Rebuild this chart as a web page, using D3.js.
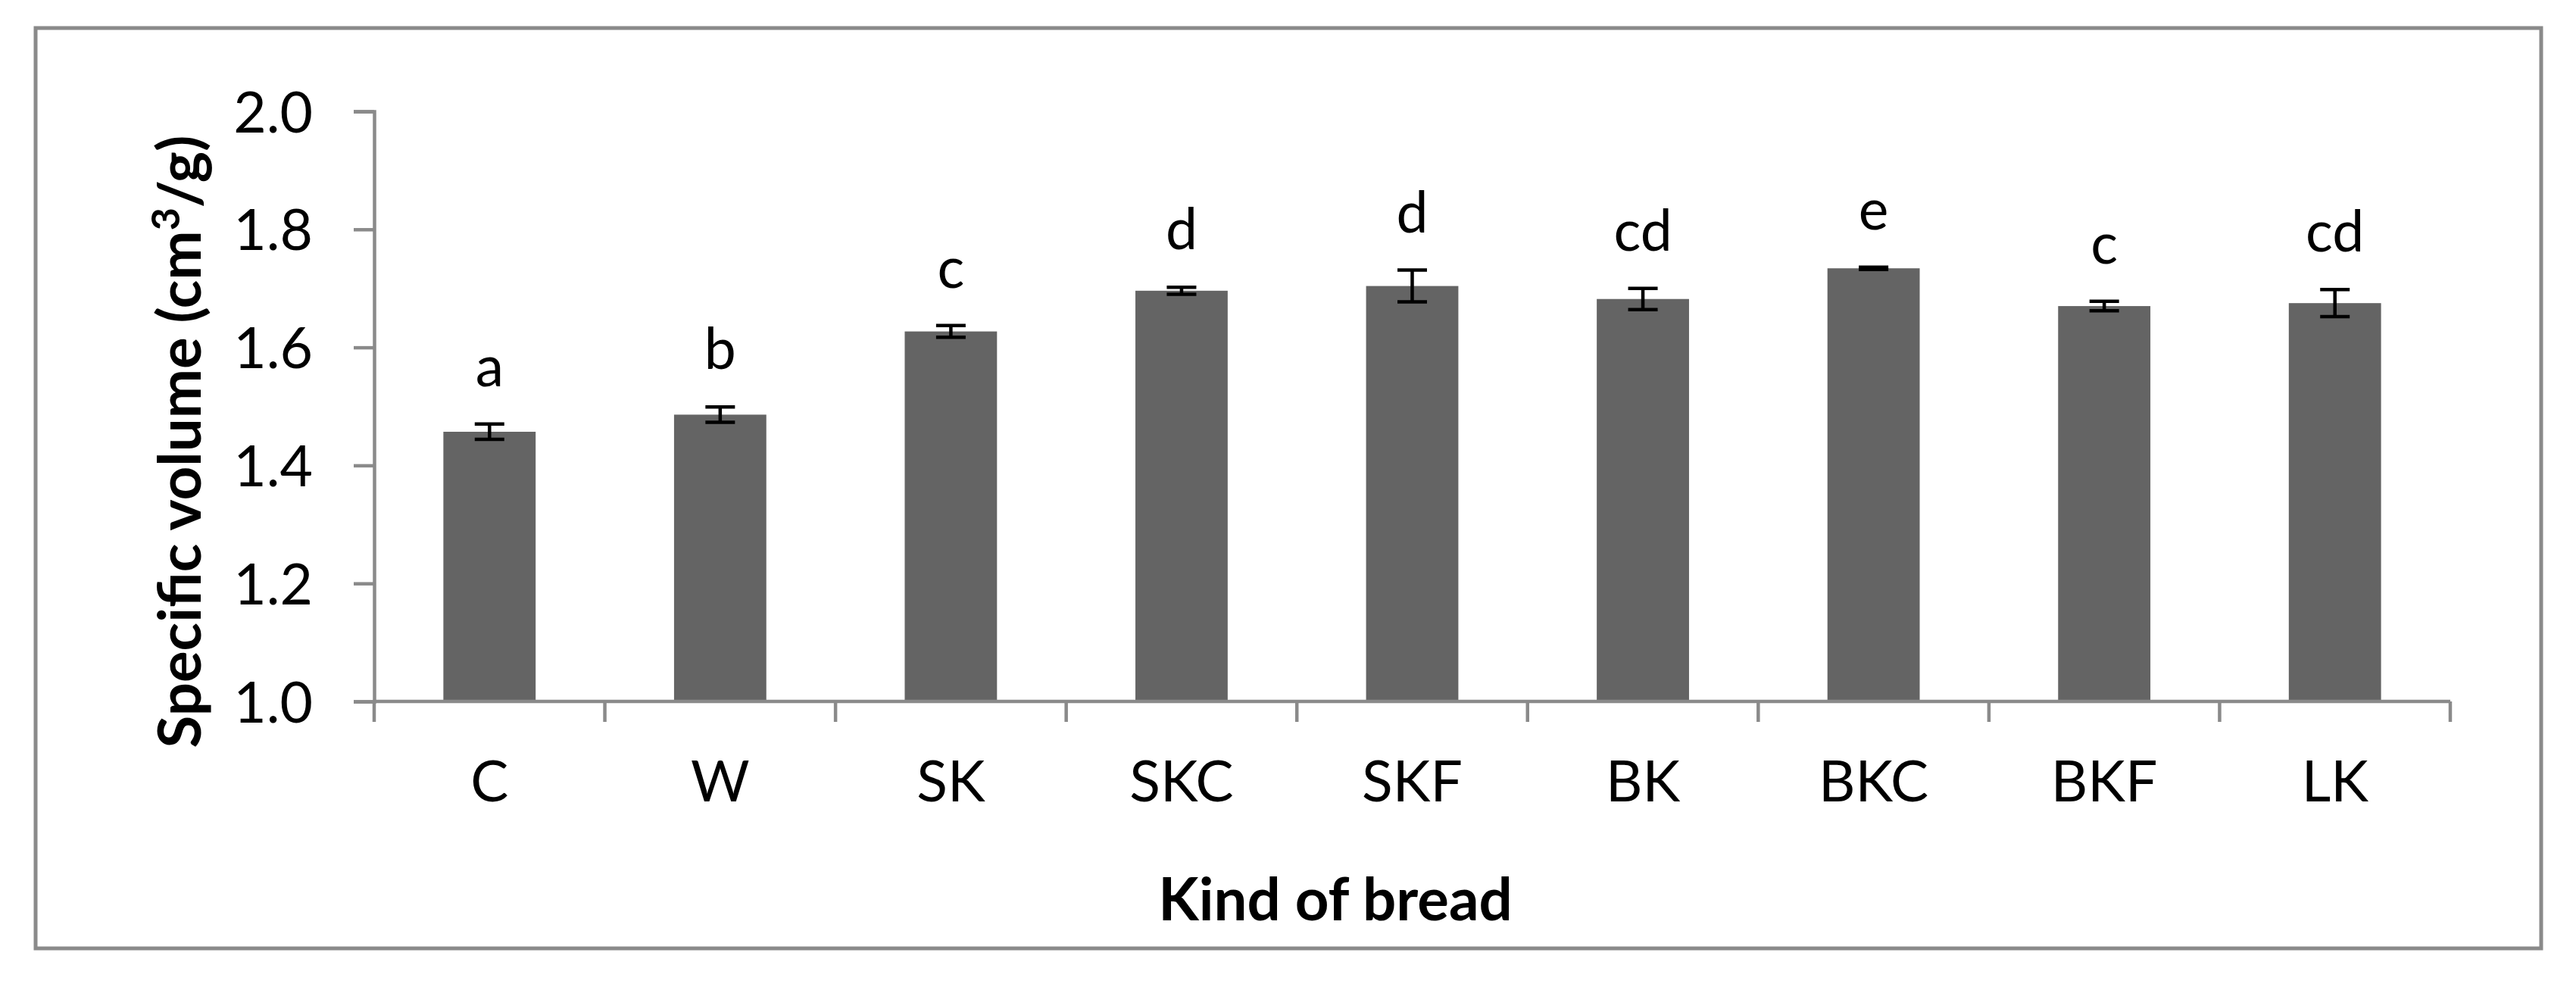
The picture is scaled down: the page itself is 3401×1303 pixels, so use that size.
<!DOCTYPE html>
<html>
<head>
<meta charset="utf-8">
<script src="https://d3js.org/d3.v7.min.js"></script>
<style>
  body { margin: 0; background: #fff; }
  text { font-family: Lato, "Open Sans", sans-serif; }
</style>
</head>
<body>
<svg id="chart" width="3401" height="1303"></svg>
<script>
// values
var categories = ["C", "W", "SK", "SKC", "SKF", "BK", "BKC", "BKF", "LK"];
var means      = [1.457, 1.486, 1.627, 1.696, 1.704, 1.682, 1.734, 1.670, 1.675];
var errors     = [0.013, 0.013, 0.010, 0.006, 0.027, 0.018, 0.002, 0.008, 0.023];
var letters    = ["a", "b", "c", "d", "d", "cd", "e", "c", "cd"];
var yTicks     = [1.0, 1.2, 1.4, 1.6, 1.8, 2.0];

var axisGray = "#8a8a8a",
    barGray = "#646464";

var svg = d3.select("#chart");

// outer chart border
svg.append("rect")
    .attr("x", 47).attr("y", 37)
    .attr("width", 3308).attr("height", 1215)
    .attr("fill", "none")
    .attr("stroke", axisGray)
    .attr("stroke-width", 5);

var x = d3.scaleBand()
    .domain(categories)
    .range([494, 3235])
    .paddingInner(0.6)
    .paddingOuter(0.3);

var y = d3.scaleLinear()
    .domain([1, 2])
    .range([926, 147]);

var barsG = svg.append("g");

// bars
barsG.selectAll(".bar")
  .data(categories)
  .enter().append("rect")
    .attr("class", "bar")
    .attr("x", function(d) { return x(d); })
    .attr("width", x.bandwidth())
    .attr("y", function(d, i) { return y(means[i]); })
    .attr("height", function(d, i) { return y(1) - y(means[i]); })
    .attr("fill", barGray);

// y axis
var yAxis = d3.axisLeft(y)
    .tickValues(yTicks)
    .tickSize(27)
    .tickPadding(54)
    .tickFormat(d3.format(".1f"));

var gy = svg.append("g")
    .attr("transform", "translate(494,0)")
    .call(yAxis);

gy.select(".domain").attr("stroke", axisGray).attr("stroke-width", 4.5);
gy.selectAll(".tick line").attr("stroke", axisGray).attr("stroke-width", 4.5);
gy.selectAll(".tick text")
    .attr("fill", "#000")
    .attr("font-size", 75)
    .attr("dy", "0.36em");

// x axis (labels only, ticks drawn between categories)
var xAxis = d3.axisBottom(x).tickSize(0).tickPadding(0);

var gx = svg.append("g")
    .attr("transform", "translate(0,926)")
    .call(xAxis);

gx.select(".domain").remove();
gx.selectAll(".tick text")
    .attr("fill", "#000")
    .attr("font-size", 75)
    .attr("dy", 0)
    .attr("y", 132);

svg.append("line")
    .attr("x1", x.range()[0]).attr("x2", x.range()[1])
    .attr("y1", y(1)).attr("y2", y(1))
    .attr("stroke", axisGray)
    .attr("stroke-width", 4.5);

svg.selectAll(".xtick")
  .data(d3.range(categories.length + 1))
  .enter().append("line")
    .attr("class", "xtick")
    .attr("x1", function(i) { return x.range()[0] + i * x.step(); })
    .attr("x2", function(i) { return x.range()[0] + i * x.step(); })
    .attr("y1", y(1))
    .attr("y2", y(1) + 27)
    .attr("stroke", axisGray)
    .attr("stroke-width", 4.5);

// error bars
var cap = 39;
var eb = svg.selectAll(".err")
  .data(categories)
  .enter().append("g")
    .attr("class", "err")
    .attr("stroke", "#000")
    .attr("stroke-width", 4.5);

eb.append("line")
    .attr("x1", function(d) { return x(d) + x.bandwidth() / 2; })
    .attr("x2", function(d) { return x(d) + x.bandwidth() / 2; })
    .attr("y1", function(d, i) { return y(means[i] - errors[i]); })
    .attr("y2", function(d, i) { return y(means[i] + errors[i]); });

[1, -1].forEach(function(s) {
  eb.append("line")
      .attr("x1", function(d) { return x(d) + x.bandwidth() / 2 - cap / 2; })
      .attr("x2", function(d) { return x(d) + x.bandwidth() / 2 + cap / 2; })
      .attr("y1", function(d, i) { return y(means[i] + s * errors[i]); })
      .attr("y2", function(d, i) { return y(means[i] + s * errors[i]); });
});

// significance letters
svg.selectAll(".letter")
  .data(categories)
  .enter().append("text")
    .attr("class", "letter")
    .attr("x", function(d) { return x(d) + x.bandwidth() / 2; })
    .attr("y", function(d, i) { return y(means[i] + errors[i]) - 50; })
    .attr("text-anchor", "middle")
    .attr("font-size", 75)
    .attr("fill", "#000")
    .text(function(d, i) { return letters[i]; });

// axis titles
svg.append("text")
    .attr("x", 1763)
    .attr("y", 1215)
    .attr("text-anchor", "middle")
    .attr("font-size", 78)
    .attr("font-weight", "bold")
    .text("Kind of bread");

var yt = svg.append("text")
    .attr("transform", "translate(265,583) rotate(-90)")
    .attr("text-anchor", "middle")
    .attr("font-size", 78)
    .attr("font-weight", "bold");
yt.append("tspan").text("Specific volume (cm");
yt.append("tspan").attr("dy", -28).attr("font-size", 52).text("3");
yt.append("tspan").attr("dy", 28).text("/g)");
</script>
</body>
</html>
